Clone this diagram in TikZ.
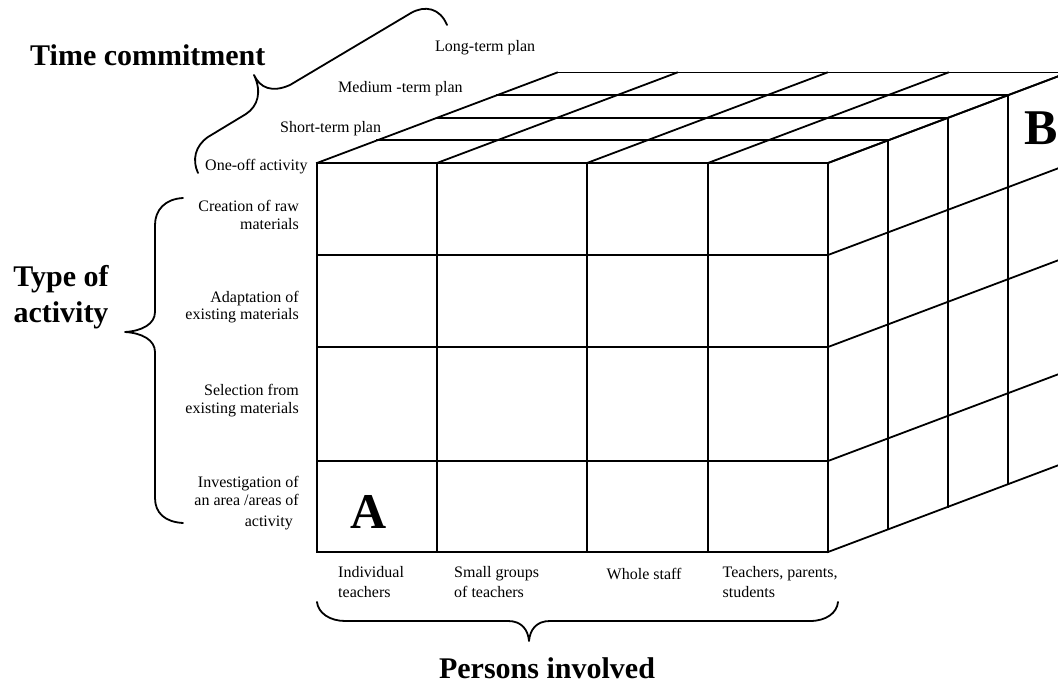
\documentclass[tikz,border=0pt]{standalone}
\usepackage{fontspec}
\setmainfont{Liberation Serif}
\begin{document}
\begin{tikzpicture}[x=1pt,y=-1pt,
  grid/.style={line width=1.8pt, line cap=rect},
  lab/.style={font=\fontsize{16}{20}\selectfont, inner sep=0pt},
  head/.style={font=\fontsize{30}{36}\selectfont\bfseries, inner sep=0pt},
  big/.style={font=\fontsize{50}{60}\selectfont\bfseries, inner sep=0pt},
  brace/.style={line width=1.8pt, line join=round, line cap=round}]
\useasboundingbox (0,0) rectangle (1058,684);
\begin{scope}
\clip (0,0) rectangle (1058,684);
% front face
\foreach \x in {317,437,587,708,828} \draw[grid] (\x,163) -- (\x,552);
\foreach \y in {163,255,347,461,552} \draw[grid] (317,\y) -- (828,\y);
% top face
\foreach \k in {1,...,4} \draw[grid] ({317+60*\k},{163-22.6*\k}) -- ({828+60*\k},{163-22.6*\k});
\foreach \x in {317,437,587,708,828} \draw[grid] (\x,163) -- ++(240,-90.4);
% right face
\foreach \k in {1,...,4} \draw[grid] ({828+60*\k},{163-22.6*\k}) -- ({828+60*\k},{552-22.6*\k});
\foreach \y in {163,255,347,461,552} \draw[grid] (828,\y) -- ++(240,-90.4);
\end{scope}

% cell letters
\node[big, anchor=base] (A) at (369,529) {A};
\node[big, anchor=base west] (B) at (1024,145) {B};

% time commitment
\node[lab, anchor=base west] (lt) at (435,52) {Long-term plan};
\node[lab, anchor=base west] (mt) at (338,92.5) {Medium -term plan};
\node[lab, anchor=base west] (st) at (280,133) {Short-term plan};
\node[lab, anchor=base west] (oo) at (205,171) {One-off activity};
\draw[brace] (198,173) .. controls (192,160) and (195,146) .. (208,137) -- (246,114)
  .. controls (258,106) and (262,92) .. (254,75)
  .. controls (260,88) and (272,93) .. (290,85) -- (411,13)
  .. controls (425,5) and (440,8) .. (447,25);
\node[head, anchor=base west] (tc) at (30,66) {Time commitment};

% type of activity
\node[lab, anchor=base east] (c1) at (299,211.7) {Creation of raw};
\node[lab, anchor=base east] (c2) at (299,229.3) {materials};
\node[lab, anchor=base east] (a1) at (299,302.7) {Adaptation of};
\node[lab, anchor=base east] (a2) at (299,320) {existing materials};
\node[lab, anchor=base east] (s1) at (299,396) {Selection from};
\node[lab, anchor=base east] (s2) at (299,413.3) {existing materials};
\node[lab, anchor=base east] (i1) at (299,487.3) {Investigation of};
\node[lab, anchor=base east] (i2) at (299,505.7) {an area /areas of};
\node[lab, anchor=base east] (i3) at (293,526.7) {activity};
\draw[brace] (183,198) .. controls (165,199) and (155,210) .. (155,225) -- (155,312)
  .. controls (155,324) and (142,331) .. (125,332)
  .. controls (142,333) and (155,340) .. (155,352) -- (155,498)
  .. controls (155,513) and (165,522) .. (183,523);
\node[head, anchor=base] (ty1) at (61,287) {Type of};
\node[head, anchor=base] (ty2) at (61,322.7) {activity};

% persons involved
\node[lab, anchor=base west] (p1) at (338,577) {Individual};
\node[lab, anchor=base west] (p1b) at (338,597) {teachers};
\node[lab, anchor=base west] (p2) at (454,577) {Small groups};
\node[lab, anchor=base west] (p2b) at (454,597) {of teachers};
\node[lab, anchor=base west] (p3) at (606.5,579) {Whole staff};
\node[lab, anchor=base west] (p4) at (722.5,577) {Teachers, parents,};
\node[lab, anchor=base west] (p4b) at (722.5,597) {students};
\draw[brace] (317,602) .. controls (318,613) and (330,621) .. (345,621) -- (508,621)
  .. controls (522,621) and (528,630) .. (529,641)
  .. controls (530,630) and (536,621) .. (550,621) -- (810,621)
  .. controls (826,621) and (837,613) .. (838,602);
\node[head, anchor=base] (pi) at (547,678) {Persons involved};
\end{tikzpicture}
\end{document}
